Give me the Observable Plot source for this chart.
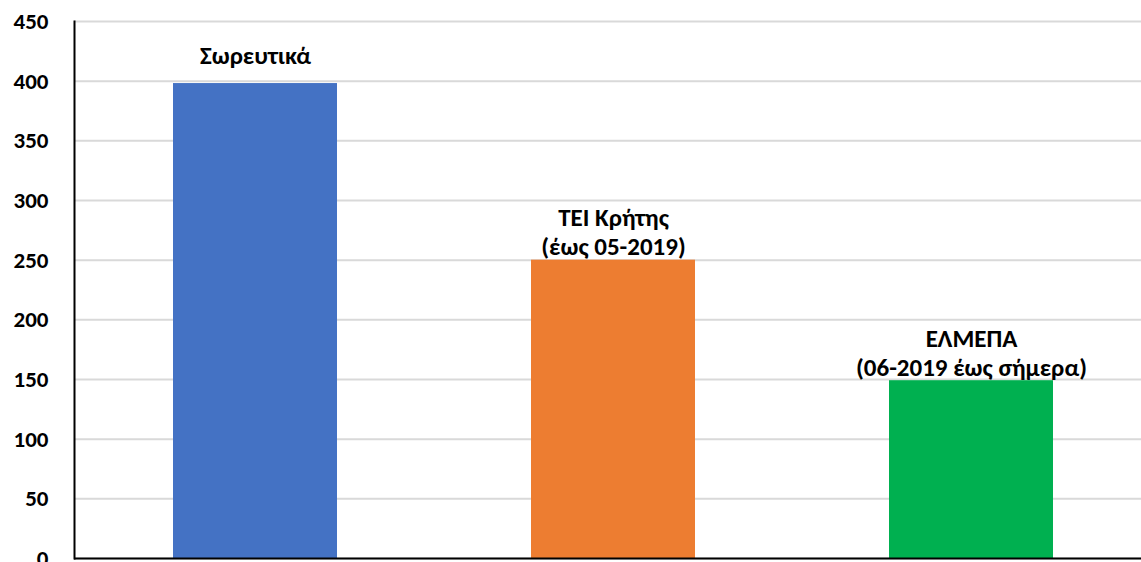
<!DOCTYPE html>
<html>
<head>
<meta charset="utf-8">
<script src="https://cdn.jsdelivr.net/npm/d3@7"></script>
<script src="https://cdn.jsdelivr.net/npm/@observablehq/plot@0.6"></script>
<style>
  html, body { margin: 0; padding: 0; background: #fff; overflow: hidden; }
  svg { display: block; }
</style>
</head>
<body>
<div id="chart"></div>
<script>
const categories = ["Σωρευτικά", "TEI Κρήτης\n(έως 05-2019)", "ΕΛΜΕΠΑ\n(06-2019 έως σήμερα)"];
const values = [398, 250, 149];
const colors = ["#4472C4", "#ED7D31", "#00B050"];
const yTicks = [0, 50, 100, 150, 200, 250, 300, 350, 400, 450];

const data = categories.map((c, i) => ({cat: c, value: values[i]}));
const font = "Carlito, Lato, 'Open Sans', sans-serif";

const chart = Plot.plot({
  width: 1141,
  height: 562,
  marginTop: 21,
  marginBottom: 4,
  marginLeft: 74,
  marginRight: 0,
  style: {fontFamily: font, background: "#fff", overflow: "visible"},
  x: {domain: categories, range: [75, 1151], paddingInner: 0.543, paddingOuter: 0.2715, axis: null},
  y: {domain: [0, 450], ticks: yTicks},
  color: {domain: categories, range: colors},
  marks: [
    Plot.gridY(yTicks, {stroke: "#D9D9D9", strokeOpacity: 1, strokeWidth: 2}),
    Plot.barY(data, {x: "cat", y: "value", fill: "cat"}),
    Plot.frame({anchor: "left", stroke: "#000", strokeWidth: 2}),
    Plot.ruleY([0], {stroke: "#000", strokeWidth: 2}),
    Plot.axisY({ticks: yTicks, tickSize: 0, tickPadding: 26, fontSize: 23, fontWeight: "bold", fill: "#000", label: null}),
    Plot.text(data.filter((d, i) => i === 0), {x: "cat", y: "value", text: "cat", lineAnchor: "bottom", dy: -20, fontSize: 25, fontWeight: "bold", fill: "#000"}),
    Plot.text(data.filter((d, i) => i > 0), {x: "cat", y: "value", text: "cat", lineAnchor: "bottom", dy: -5, lineHeight: 1.16, fontSize: 25, fontWeight: "bold", fill: "#000"})
  ]
});
document.getElementById("chart").appendChild(chart);
</script>
</body>
</html>
